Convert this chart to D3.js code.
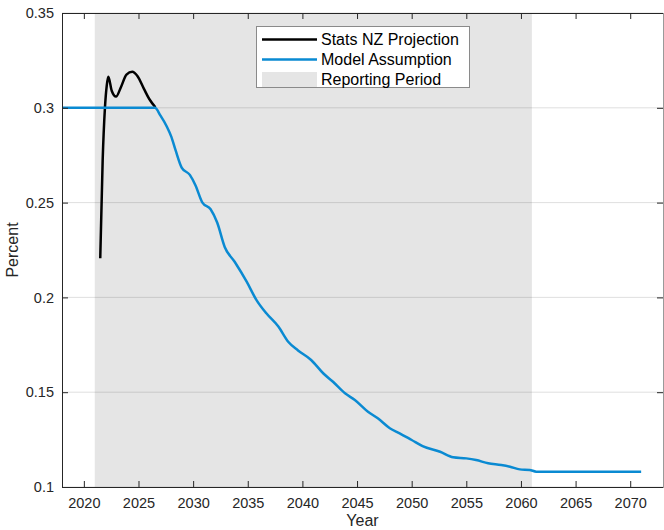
<!DOCTYPE html>
<html>
<head>
<meta charset="utf-8">
<script src="https://cdn.jsdelivr.net/npm/d3@7"></script>
<style>
  html, body { margin: 0; padding: 0; background: #fff; }
  svg { display: block; font-family: "Liberation Sans", Arial, Helvetica, sans-serif; }
</style>
</head>
<body>
<svg id="chart" width="664" height="530"></svg>
<script>
// ---- Data ----
const xTicks = [2020, 2025, 2030, 2035, 2040, 2045, 2050, 2055, 2060, 2065, 2070];
const yTicks = [0.1, 0.15, 0.2, 0.25, 0.3, 0.35];
const yTickLabels = ["0.1", "0.15", "0.2", "0.25", "0.3", "0.35"];
const reportingPeriod = [2021, 2061];

const statsYears = [2021.5, 2021.72, 2021.93, 2022.1, 2022.24, 2022.55, 2022.94, 2023.4, 2023.9, 2024.43, 2024.9, 2025.5, 2026.0, 2026.55];
const statsValues = [0.2206, 0.272, 0.300, 0.312, 0.3164, 0.309, 0.3059, 0.311, 0.3175, 0.319, 0.3168, 0.310, 0.3045, 0.3003];

const modelYears = [2018, 2026.5, 2027.0, 2027.6, 2028.0, 2028.4, 2028.95, 2029.7, 2030.2, 2030.85, 2031.6, 2032.2, 2032.9, 2033.8,
  2034.9, 2035.8, 2036.7, 2037.8, 2038.7, 2039.6, 2040.8, 2041.9, 2042.8, 2043.9, 2044.8, 2046.0, 2046.9, 2048.0, 2048.9,
  2050.0, 2051.0, 2052.6, 2053.8, 2055.0, 2055.9, 2057.0, 2058.2, 2059.0, 2059.9, 2060.8, 2061.4, 2071];
const modelValues = [0.3, 0.3, 0.296, 0.290, 0.2848, 0.2775, 0.2685, 0.2646, 0.2593, 0.2500, 0.2465, 0.2395, 0.2265, 0.2188,
  0.2083, 0.1986, 0.1916, 0.1846, 0.1766, 0.1720, 0.1670, 0.1600, 0.1555, 0.1494, 0.1459, 0.1397, 0.1362, 0.1310, 0.1283,
  0.1248, 0.1216, 0.1186, 0.1157, 0.1151, 0.1142, 0.1125, 0.1116, 0.1107, 0.1093, 0.1090, 0.1081, 0.1081];

const legendLabels = ["Stats NZ Projection", "Model Assumption", "Reporting Period"];

// ---- Layout ----
const L = 62, R = 663, T = 13, B = 487;
const svg = d3.select("#chart");
const x = d3.scaleLinear().domain([2018, 2073]).range([L, R]);
const y = d3.scaleLinear().domain([0.1, 0.35]).range([B, T]);

const axisColor = "#262626";
const blue = "#0a8ad2";
const shade = "#e5e5e5";

// Reporting period shading
svg.append("rect")
  .attr("x", x(reportingPeriod[0])).attr("y", T)
  .attr("width", x(reportingPeriod[1]) - x(reportingPeriod[0]))
  .attr("height", B - T)
  .attr("fill", shade);

// Horizontal grid
svg.append("g").selectAll("line").data(yTicks).join("line")
  .attr("x1", L).attr("x2", R)
  .attr("y1", d => y(d)).attr("y2", d => y(d))
  .attr("stroke", axisColor).attr("stroke-opacity", 0.15).attr("stroke-width", 1);

// Lines
const statsData = statsYears.map((d, i) => [d, statsValues[i]]);
const modelData = modelYears.map((d, i) => [d, modelValues[i]]);
const line = d3.line().x(d => x(d[0])).y(d => y(d[1])).curve(d3.curveMonotoneX);

svg.append("path").datum(statsData).attr("d", line)
  .attr("fill", "none").attr("stroke", "#000").attr("stroke-width", 2.5);
svg.append("path").datum(modelData).attr("d", line)
  .attr("fill", "none").attr("stroke", blue).attr("stroke-width", 2.5);

// Axes with d3 (inward ticks)
const bottomAxis = d3.axisBottom(x).tickValues(xTicks).tickFormat(d3.format("d")).tickSizeInner(-6).tickSizeOuter(0).tickPadding(11);
const topAxis = d3.axisTop(x).tickValues(xTicks).tickFormat("").tickSizeInner(-6).tickSizeOuter(0);
const leftAxis = d3.axisLeft(y).tickValues(yTicks).tickFormat((d, i) => yTickLabels[i]).tickSizeInner(-6).tickSizeOuter(0).tickPadding(8);
const rightAxis = d3.axisRight(y).tickValues(yTicks).tickFormat("").tickSizeInner(-6).tickSizeOuter(0);

function style(g) {
  g.select(".domain").attr("stroke", axisColor).attr("stroke-width", 1);
  g.selectAll(".tick line").attr("stroke", axisColor).attr("stroke-width", 1);
  g.selectAll(".tick text").attr("fill", axisColor).style("font-size", "14.5px")
    .style("font-family", '"Liberation Sans", Arial, Helvetica, sans-serif');
}
svg.append("g").attr("transform", `translate(0,${B})`).call(bottomAxis).call(style);
svg.append("g").attr("transform", `translate(0,${T})`).call(topAxis).call(style);
svg.append("g").attr("transform", `translate(${L},0)`).call(leftAxis).call(style);
svg.append("g").attr("transform", `translate(${R},0)`).call(rightAxis).call(style)
  .select(".domain").attr("stroke", "#9a9a9a");

// Axis labels
svg.append("text").attr("x", (L + R) / 2).attr("y", 526)
  .attr("text-anchor", "middle").attr("fill", axisColor).style("font-size", "16px").text("Year");
svg.append("text").attr("transform", `translate(18,${(T + B) / 2}) rotate(-90)`)
  .attr("text-anchor", "middle").attr("fill", axisColor).style("font-size", "16px").text("Percent");

// Legend
const lg = svg.append("g");
lg.append("rect").attr("x", 256.5).attr("y", 26.5).attr("width", 213).attr("height", 61)
  .attr("fill", "#fff").attr("stroke", "#8a8a8a").attr("stroke-width", 1);
const rowsY = [39.5, 59.5, 79.5];
lg.append("line").attr("x1", 262).attr("x2", 317).attr("y1", rowsY[0]).attr("y2", rowsY[0])
  .attr("stroke", "#000").attr("stroke-width", 2.5);
lg.append("line").attr("x1", 262).attr("x2", 317).attr("y1", rowsY[1]).attr("y2", rowsY[1])
  .attr("stroke", blue).attr("stroke-width", 2.5);
lg.append("rect").attr("x", 262).attr("y", 72).attr("width", 55).attr("height", 15).attr("fill", shade);
lg.selectAll("text.lab").data(legendLabels).join("text").attr("class", "lab")
  .attr("x", 321).attr("y", (d, i) => rowsY[i]).attr("dy", "0.35em")
  .attr("fill", "#000").style("font-size", "16px").text(d => d);
</script>
</body>
</html>
